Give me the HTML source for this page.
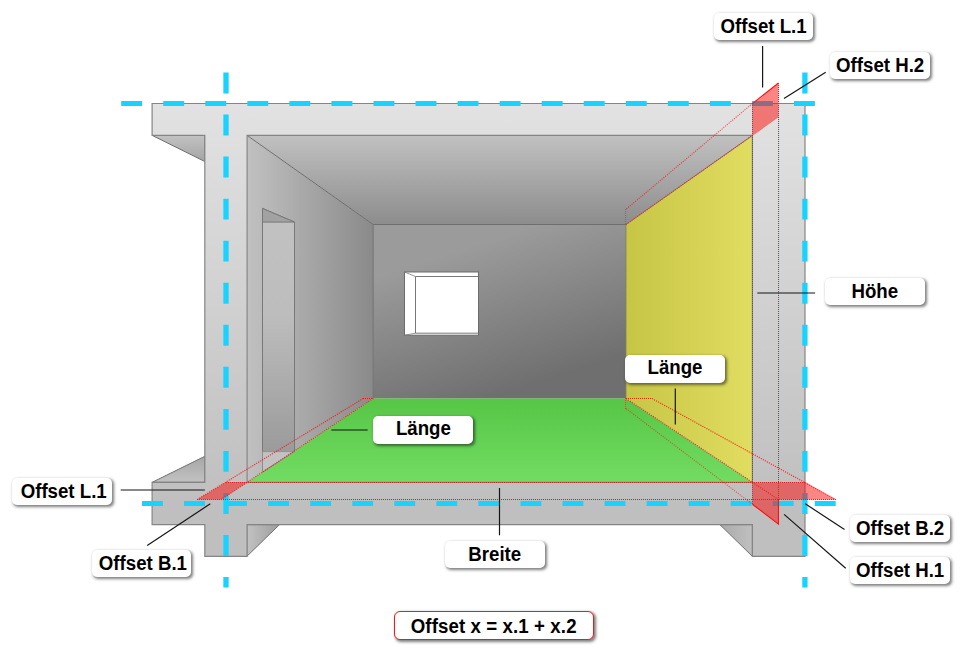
<!DOCTYPE html>
<html lang="de">
<head>
<meta charset="utf-8">
<title>Offset</title>
<style>
html,body{margin:0;padding:0;background:#fff;}
body{width:964px;height:651px;position:relative;overflow:hidden;font-family:"Liberation Sans",Arial,sans-serif;}
svg{position:absolute;left:0;top:0;display:block;}
.lb{position:absolute;width:99.6px;height:27.4px;background:#fff;border-radius:5px;box-shadow:1.5px 1.5px 3px rgba(0,0,0,.5);
 font-weight:bold;font-size:18.67px;line-height:27.4px;text-align:center;color:#000;white-space:nowrap;}
.lb span{display:inline-block;transform:scaleY(1.045);transform-origin:50% 70%;}
.lg span{position:relative;top:-1px;}
.fm span{position:relative;top:1.9px;}
.fm{box-sizing:border-box;width:200px;height:29px;line-height:25.4px;border:1.8px solid #e81c1c;border-radius:6px;letter-spacing:0.1px;}
</style>
</head>
<body>
<svg width="964" height="651" viewBox="0 0 964 651">
<defs>
 <linearGradient id="gSec" x1="0" y1="103" x2="0" y2="506" gradientUnits="userSpaceOnUse">
  <stop offset="0" stop-color="#e2e2e2"/><stop offset="1" stop-color="#bfbfbf"/>
 </linearGradient>
 <linearGradient id="gCeil" x1="0" y1="135" x2="0" y2="225" gradientUnits="userSpaceOnUse">
  <stop offset="0" stop-color="#c1c1c1"/><stop offset="1" stop-color="#8c8c8c"/>
 </linearGradient>
 <linearGradient id="gLeft" x1="247" y1="0" x2="373" y2="0" gradientUnits="userSpaceOnUse">
  <stop offset="0" stop-color="#c1c1c1"/><stop offset="1" stop-color="#8a8a8a"/>
 </linearGradient>
 <linearGradient id="gBack" x1="514" y1="233" x2="559.7" y2="375.3" gradientUnits="userSpaceOnUse">
  <stop offset="0" stop-color="#9b9b9b"/><stop offset="1" stop-color="#6f6f6f"/>
 </linearGradient>
 <linearGradient id="gYel" x1="626" y1="0" x2="752" y2="0" gradientUnits="userSpaceOnUse">
  <stop offset="0" stop-color="#c7c545"/><stop offset="1" stop-color="#e0dd61"/>
 </linearGradient>
 <linearGradient id="gGrn" x1="0" y1="399" x2="0" y2="482" gradientUnits="userSpaceOnUse">
  <stop offset="0" stop-color="#56c646"/><stop offset="1" stop-color="#72dc62"/>
 </linearGradient>
 <linearGradient id="gTri" x1="0" y1="0" x2="0" y2="1">
  <stop offset="0" stop-color="#c2c2c2"/><stop offset="1" stop-color="#a4a4a4"/>
 </linearGradient>
 <linearGradient id="gTri2" x1="0" y1="0" x2="0" y2="1">
  <stop offset="0" stop-color="#a6a6a6"/><stop offset="1" stop-color="#c2c2c2"/>
 </linearGradient>
 <linearGradient id="gTri3" x1="0" y1="0" x2="1" y2="0">
  <stop offset="0" stop-color="#c2c2c2"/><stop offset="1" stop-color="#9e9e9e"/>
 </linearGradient>
 <linearGradient id="gTri4" x1="0" y1="0" x2="1" y2="0">
  <stop offset="0" stop-color="#aaaaaa"/><stop offset="1" stop-color="#c0c0c0"/>
 </linearGradient>
 <linearGradient id="gDoor" x1="0" y1="208" x2="0" y2="472" gradientUnits="userSpaceOnUse">
  <stop offset="0" stop-color="#c2c2c2"/><stop offset="0.4" stop-color="#bdbdbd"/><stop offset="1" stop-color="#969696"/>
 </linearGradient>
</defs>
<rect width="964" height="651" fill="#fff"/>

<!-- perspective faces outside the section -->
<polygon points="152.2,135.4 204.8,135.4 204.8,161.5" fill="url(#gTri)" stroke="#707070" stroke-width="1"/>
<polygon points="152.2,482.3 204.8,456.3 204.8,482.3" fill="url(#gTri2)" stroke="#707070" stroke-width="1"/>
<polygon points="246.8,524.6 279.5,524.6 246.8,556.4" fill="url(#gTri3)" stroke="#707070" stroke-width="1"/>
<polygon points="719.9,524.6 752.4,524.6 752.4,556.4" fill="url(#gTri4)" stroke="#707070" stroke-width="1"/>

<!-- room -->
<polygon points="247.1,135.4 752.4,135.4 626,224.5 373.2,224.5" fill="url(#gCeil)"/>
<polygon points="247.1,135.4 373.2,224.5 373.2,398.6 247.1,482.3" fill="url(#gLeft)"/>
<rect x="373.2" y="224.5" width="252.8" height="174.1" fill="url(#gBack)"/>
<polygon points="626,224.5 752.4,135.4 752.4,482.3 626,398.6" fill="url(#gYel)"/>
<polygon points="373.2,398.6 626,398.6 752.4,482.3 247.1,482.3" fill="url(#gGrn)"/>
<!-- room edges -->
<g stroke="#6e6e6e" stroke-width="1" fill="none">
 <line x1="247.1" y1="135.4" x2="373.2" y2="224.5"/>
 <line x1="373.2" y1="224.5" x2="626" y2="224.5"/>
 <line x1="373.2" y1="224.5" x2="373.2" y2="398.6"/>
 <line x1="626" y1="224.5" x2="752.4" y2="135.4" stroke="#787878"/>
 <line x1="626" y1="224.5" x2="626" y2="398.6" stroke="#80805a" stroke-width="0.8"/>
</g>
<!-- door -->
<polygon points="262.5,208.4 294.5,222.1 294.5,451.3 262.5,472" fill="url(#gDoor)" stroke="#787878" stroke-width="1"/>
<polygon points="262.5,208.4 294.5,222.1 262.5,222.1" fill="#a2a2a2" stroke="#787878" stroke-width="1"/>
<polygon points="262.5,451.6 294.5,451.6 262.5,472" fill="#c2c2c2" stroke="#8a8a8a" stroke-width="0.8"/>
<!-- window -->
<rect x="404.5" y="272" width="74" height="63.2" fill="#fff" stroke="#6c6c6c" stroke-width="1"/>
<polyline points="478.5,276.5 415.5,276.5 415.5,333.2 478.5,333.2" fill="none" stroke="#6a6a6a" stroke-width="0.9"/>
<line x1="404.5" y1="272" x2="415.5" y2="276.5" stroke="#7a7a7a" stroke-width="0.8"/>
<line x1="404.5" y1="335.2" x2="415.5" y2="333.2" stroke="#7a7a7a" stroke-width="0.8"/>

<!-- section -->
<path fill-rule="evenodd" fill="url(#gSec)" stroke="#858585" stroke-width="1.2" d="M152.1,103.5H805V556.3H752.4V524.6H247.1V556.3H204.8V524.6H152.1V482.3H204.8V135.4H152.1Z M247.1,135.4H752.4V482.3H247.1Z"/>

<!-- cyan dashed axes -->
<g stroke="#18d3ff" fill="none" stroke-dasharray="20.9 21.15">
 <line x1="121.2" y1="103.5" x2="815.2" y2="103.5" stroke-width="5"/>
 <line x1="142" y1="503.5" x2="836.2" y2="503.5" stroke-width="5"/>
 <line x1="226" y1="72.5" x2="226" y2="587.5" stroke-width="5.3"/>
 <line x1="804.9" y1="72.5" x2="804.9" y2="587.5" stroke-width="5.3"/>
</g>

<!-- red offsets -->
<g fill="rgba(255,10,10,0.5)" stroke="none">
 <polygon points="752.3,103.6 778.5,83 778.5,117.3 752.3,136"/>
 <polygon points="226,482.3 247.1,482.3 221.3,499.5 197.3,499.5"/>
 <polygon points="752.4,482.4 806,482.4 835.8,499.6 778.5,499.6"/>
 <polygon points="752.4,482.4 778.5,499.6 778.5,524.1 752.4,504.2"/>
</g>
<g fill="none" stroke="#ff1010" stroke-width="1" stroke-dasharray="1 1">
 <line x1="625.6" y1="209" x2="625.6" y2="225" stroke-opacity="0.6"/>
 <line x1="752.5" y1="103" x2="752.5" y2="504"/>
 <line x1="778.5" y1="83" x2="778.5" y2="500"/>
 <line x1="226" y1="482.5" x2="806" y2="482.5"/>
 <line x1="197" y1="499.5" x2="836" y2="499.5"/>
 <line x1="363" y1="398.5" x2="373" y2="398.5"/>
 <line x1="626" y1="398.5" x2="652" y2="398.5"/>
 <line x1="625.6" y1="398" x2="625.6" y2="409" stroke-opacity="0.6"/>
</g>
<g fill="none" stroke="#ff1010" stroke-width="1.1" stroke-dasharray="1.15 1.15" stroke-opacity="0.9">
 <line x1="752.5" y1="103.5" x2="626" y2="209.3" stroke-opacity="0.7"/>
 <line x1="626" y1="224.5" x2="752.5" y2="135.5" stroke-opacity="0.7"/>
 <line x1="197.3" y1="499.5" x2="363.2" y2="398.5"/>
 <line x1="373.2" y1="398.5" x2="221.3" y2="499.5"/>
 <line x1="652" y1="398.5" x2="835.8" y2="499.6"/>
 <line x1="626" y1="398.5" x2="778.5" y2="499.6"/>
 <line x1="626" y1="408.5" x2="752.4" y2="504.2" stroke-opacity="0.55"/>
</g>
<g fill="none" stroke="#ff1010" stroke-width="1.1">
 <polyline points="752.4,504.2 778.5,524.1 778.5,499.6"/>
 <line x1="752.3" y1="103.6" x2="778.5" y2="83"/>
</g>


<!-- leaders -->
<g stroke="#151515" stroke-width="1.2" fill="none">
 <line x1="762.6" y1="46" x2="762.6" y2="87.5"/>
 <line x1="825.7" y1="72.2" x2="784" y2="98.4"/>
 <line x1="757.3" y1="293" x2="815.1" y2="293"/>
 <line x1="675.3" y1="388.5" x2="675.3" y2="424.6"/>
 <line x1="331.4" y1="430" x2="367.7" y2="430"/>
 <line x1="120.7" y1="490" x2="204.8" y2="490"/>
 <line x1="147.2" y1="545.4" x2="210.3" y2="503.8"/>
 <line x1="499.5" y1="488" x2="499.5" y2="535.3"/>
 <line x1="844.5" y1="529.6" x2="805.3" y2="503.8"/>
 <line x1="845.7" y1="568.2" x2="784.1" y2="514.4"/>
</g>
</svg>

<div class="lb" style="left:713.8px;top:12.6px"><span>Offset L.1</span></div>
<div class="lb" style="left:830.1px;top:51.7px;width:100.1px"><span>Offset H.2</span></div>
<div class="lb" style="left:825px;top:277.8px"><span>Höhe</span></div>
<div class="lb lg" style="left:625.2px;top:355.3px;height:27.6px"><span>Länge</span></div>
<div class="lb lg" style="left:373.4px;top:416.3px;width:100.1px;height:27.7px"><span style="top:-1.8px">Länge</span></div>
<div class="lb" style="left:12.3px;top:478px;text-indent:1.6px"><span>Offset L.1</span></div>
<div class="lb" style="left:850.1px;top:514.7px;width:100.1px"><span>Offset B.2</span></div>
<div class="lb" style="left:91.5px;top:550px;text-indent:1.6px"><span>Offset B.1</span></div>
<div class="lb" style="left:850.1px;top:557px;width:100.1px"><span>Offset H.1</span></div>
<div class="lb" style="left:444.7px;top:540.6px;width:100.2px;height:27.6px;line-height:27.6px"><span>Breite</span></div>
<div class="lb fm" style="left:393.7px;top:610.7px"><span>Offset x = x.1 + x.2</span></div>
</body>
</html>
